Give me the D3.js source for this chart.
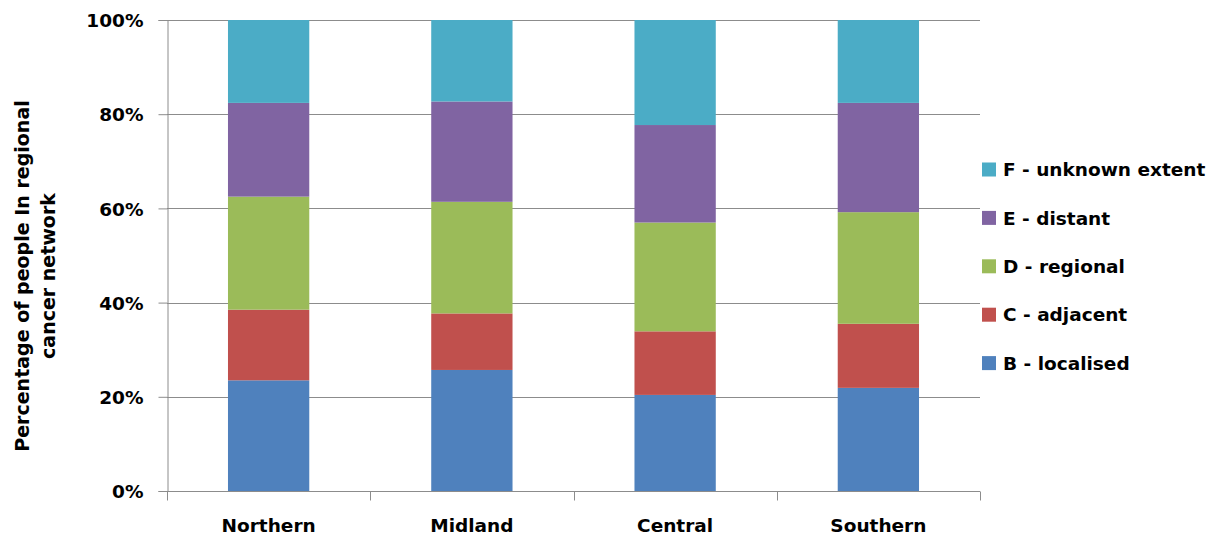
<!DOCTYPE html>
<html>
<head>
<meta charset="utf-8">
<script src="https://cdn.jsdelivr.net/npm/d3@7"></script>
<style>
  html, body { margin: 0; padding: 0; background: #fff; }
  svg { display: block; }
  text { font-family: "DejaVu Sans", Verdana, sans-serif; font-weight: bold; fill: #000; }
</style>
</head>
<body>
<svg id="chart" width="1225" height="540"></svg>
<script>
// Regional cancer networks
const categories = ["Northern", "Midland", "Central", "Southern"];

// Stage at diagnosis, share of people (%) per network
const seriesNames = ["B - localised", "C - adjacent", "D - regional", "E - distant", "F - unknown extent"];
const localised = [23.5, 25.7, 20.4, 21.9];
const adjacent  = [15.0, 12.0, 13.5, 13.6];
const regional  = [24.0, 23.7, 23.1, 23.7];
const distant   = [19.9, 21.3, 20.7, 23.2];
const unknown   = [17.6, 17.3, 22.3, 17.6];

const yTicks = [0, 20, 40, 60, 80, 100];
const colors = ["#4F81BD", "#C0504D", "#9BBB59", "#8064A2", "#4BACC6"];

const seriesValues = [localised, adjacent, regional, distant, unknown];
const rows = categories.map((c, i) => {
  const r = { category: c };
  seriesNames.forEach((s, k) => { r[s] = seriesValues[k][i]; });
  return r;
});

const svg = d3.select("#chart");
const plot = { left: 167, right: 980, top: 20, bottom: 491 };

const x = d3.scaleBand().domain(categories).range([plot.left, plot.right]).paddingInner(0.6).paddingOuter(0.3);
const xCat = d3.scaleBand().domain(categories).range([plot.left, plot.right]).padding(0);
const y = d3.scaleLinear().domain([0, 100]).range([plot.bottom, plot.top]);

const stack = d3.stack().keys(seriesNames).offset(d3.stackOffsetExpand);
const stacked = stack(rows);

// Horizontal gridlines
svg.append("g")
  .selectAll("line")
  .data(yTicks.filter(t => t > 0))
  .join("line")
  .attr("x1", plot.left).attr("x2", plot.right)
  .attr("y1", d => Math.round(y(d)) + 0.5).attr("y2", d => Math.round(y(d)) + 0.5)
  .attr("stroke", "#8c8c8c").attr("stroke-width", 1);

// Stacked bars
svg.append("g")
  .selectAll("g")
  .data(stacked)
  .join("g")
  .attr("fill", (d, i) => colors[i])
  .selectAll("rect")
  .data(d => d)
  .join("rect")
  .attr("x", d => x(d.data.category))
  .attr("width", x.bandwidth())
  .attr("y", d => y(d[1] * 100))
  .attr("height", d => y(d[0] * 100) - y(d[1] * 100));

// Y axis
const yAxis = d3.axisLeft(y).tickValues(yTicks).tickFormat(d => d + "%").tickSize(9).tickPadding(15);
const gy = svg.append("g").attr("transform", `translate(${plot.left + 0.5},0)`).call(yAxis);
gy.select(".domain").attr("stroke", "#8c8c8c");
gy.selectAll(".tick line").attr("stroke", "#8c8c8c");
gy.selectAll(".tick text").style("font-size", "18.5px").attr("dy", "0.36em");

// X axis with ticks between categories
const gx = svg.append("g").attr("transform", `translate(0,${plot.bottom + 0.5})`);
gx.append("line").attr("x1", plot.left).attr("x2", plot.right).attr("stroke", "#8c8c8c");
const bounds = categories.map(c => xCat(c)).concat([plot.right]);
gx.selectAll("line.sep").data(bounds).join("line").attr("class", "sep")
  .attr("x1", d => Math.round(d) + 0.5).attr("x2", d => Math.round(d) + 0.5)
  .attr("y1", 0).attr("y2", 9).attr("stroke", "#8c8c8c");
gx.selectAll("text").data(categories).join("text")
  .attr("x", d => xCat(d) + xCat.bandwidth() / 2)
  .attr("y", 40)
  .attr("text-anchor", "middle")
  .style("font-size", "18.5px")
  .text(d => d);

// Y axis title
const title = svg.append("text")
  .attr("transform", "translate(22,276) rotate(-90)")
  .attr("text-anchor", "middle")
  .style("font-size", "19px");
title.append("tspan").attr("x", 0).attr("y", 7).text("Percentage of people In regional");
title.append("tspan").attr("x", 0).attr("y", 33).text("cancer network");

// Legend (top entry is the top of the stack)
const legendItems = seriesNames.map((s, i) => ({ name: s, color: colors[i] })).reverse();
const lg = svg.append("g").selectAll("g").data(legendItems).join("g")
  .attr("transform", (d, i) => `translate(982,${169.5 + i * 48.4})`);
lg.append("rect").attr("x", 0).attr("y", -7).attr("width", 14).attr("height", 14).attr("fill", d => d.color);
lg.append("text").attr("x", 21).attr("y", 0).attr("dy", "0.36em").style("font-size", "18.5px").text(d => d.name);
</script>
</body>
</html>
